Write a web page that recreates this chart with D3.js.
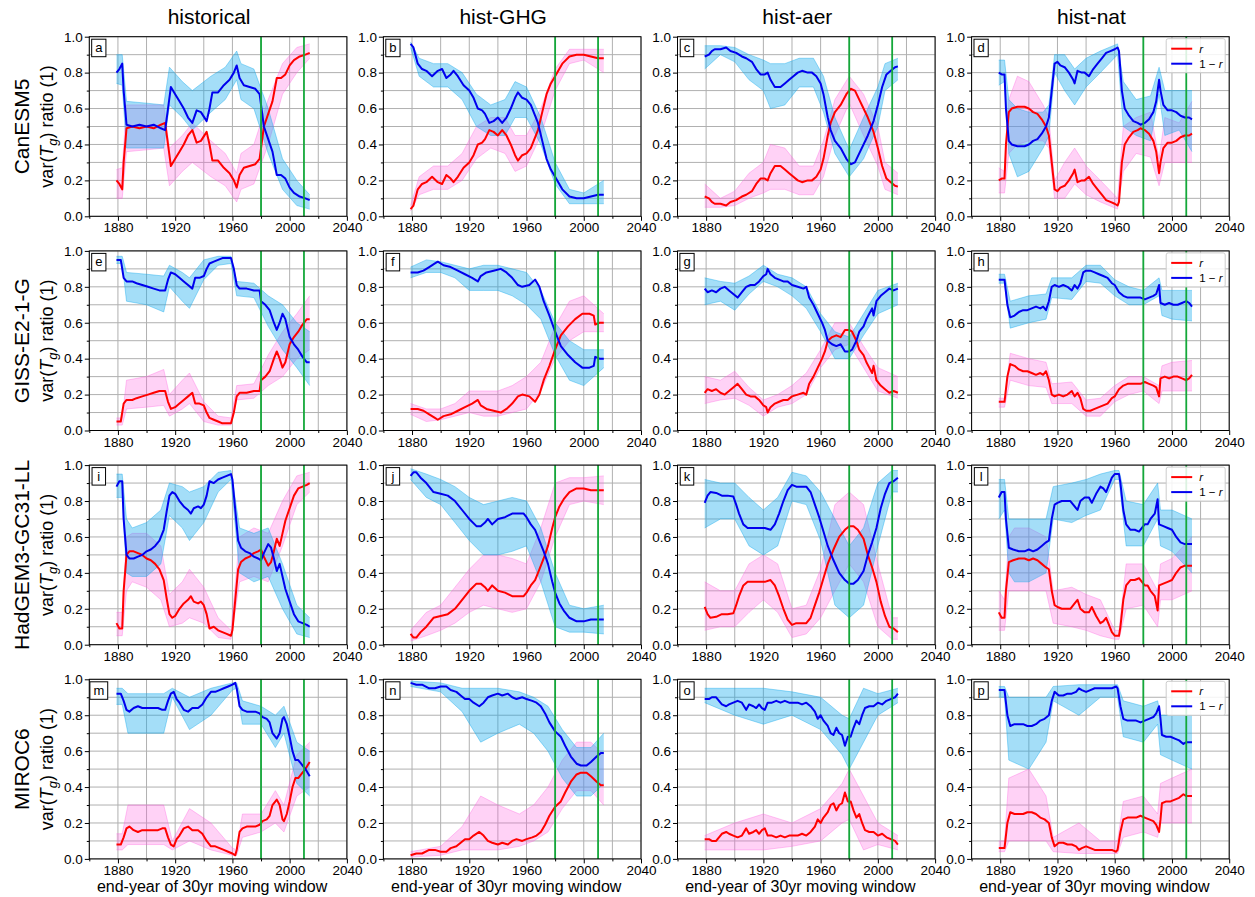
<!DOCTYPE html>
<html>
<head>
<meta charset="utf-8">
<script src="https://cdn.jsdelivr.net/npm/d3@7"></script>
<style>
  body { margin: 0; background: #fff; }
  svg text { font-family: "Liberation Sans", Arial, sans-serif; fill: #000; }
</style>
</head>
<body>
<svg id="fig" width="1255" height="897"></svg>
<script>
// ---- chart content -------------------------------------------------------
const models = ["CanESM5", "GISS-E2-1-G", "HadGEM3-GC31-LL", "MIROC6"];
const experiments = ["historical", "hist-GHG", "hist-aer", "hist-nat"];
const panelLetters = ["a","b","c","d","e","f","g","h","i","j","k","l","m","n","o","p"];
const xMajorTicks = [1880, 1920, 1960, 2000, 2040];
const xMinorTicks = [1860, 1900, 1940, 1980, 2020];
const yMajorTicks = [0, 0.2, 0.4, 0.6, 0.8, 1.0];
const yMinorTicks = [0.1, 0.3, 0.5, 0.7, 0.9];
const markerYears = [1980, 2010];
const legendLabels = ["r", "1 \u2212 r"];
const xAxisLabel = "end-year of 30yr moving window";

// ensemble-mean ratio r, [end-year, r]; the complementary curve is 1 - r
const rMeanA = [[1879,.20],[1881,.18],[1883,.15],[1884,.30],[1886,.49],[1890,.50],[1895,.49],[1900,.50],[1905,.49],[1910,.51],[1913,.52],[1915,.40],[1917,.28],[1920,.32],[1923,.36],[1926,.40],[1929,.45],[1932,.48],[1935,.41],[1938,.42],[1942,.47],[1944,.40],[1946,.31],[1950,.31],[1954,.27],[1958,.24],[1961,.20],[1963,.16],[1965,.23],[1968,.27],[1972,.28],[1976,.29],[1979,.32],[1982,.50],[1985,.57],[1988,.64],[1991,.77],[1994,.77],[1997,.79],[2000,.84],[2003,.87],[2007,.89],[2011,.90],[2014,.91]];
const rMeanB = [[1879,.04],[1881,.06],[1884,.15],[1887,.18],[1890,.19],[1894,.22],[1898,.19],[1901,.18],[1904,.23],[1907,.21],[1909,.19],[1912,.22],[1916,.27],[1920,.30],[1923,.34],[1926,.40],[1929,.41],[1931,.43],[1934,.48],[1937,.47],[1940,.45],[1943,.48],[1946,.45],[1949,.40],[1952,.34],[1954,.31],[1957,.34],[1960,.35],[1963,.38],[1966,.44],[1968,.48],[1971,.58],[1974,.68],[1977,.74],[1980,.78],[1985,.85],[1990,.89],[1995,.90],[2000,.90],[2005,.89],[2010,.88],[2014,.88]];
const rMeanC = [[1879,.11],[1882,.10],[1884,.08],[1886,.07],[1890,.07],[1894,.06],[1897,.08],[1901,.09],[1905,.11],[1908,.12],[1912,.14],[1915,.18],[1918,.21],[1921,.21],[1923,.20],[1925,.24],[1928,.28],[1932,.28],[1935,.26],[1938,.24],[1941,.22],[1944,.20],[1947,.19],[1951,.20],[1954,.20],[1957,.22],[1960,.26],[1962,.32],[1965,.45],[1967,.52],[1970,.58],[1974,.62],[1978,.68],[1981,.71],[1984,.70],[1987,.65],[1990,.60],[1993,.55],[1997,.47],[2000,.38],[2003,.28],[2006,.21],[2009,.19],[2012,.17],[2014,.165]];
const rMeanD = [[1879,.20],[1881,.21],[1883,.21],[1884,.40],[1886,.58],[1888,.60],[1892,.61],[1897,.61],[1900,.60],[1903,.58],[1906,.57],[1909,.54],[1912,.50],[1914,.45],[1916,.30],[1918,.15],[1920,.14],[1922,.16],[1925,.17],[1928,.20],[1931,.24],[1932,.26],[1934,.19],[1937,.20],[1939,.20],[1942,.22],[1945,.18],[1948,.15],[1951,.12],[1954,.09],[1957,.08],[1960,.07],[1962,.06],[1963,.08],[1965,.30],[1967,.40],[1970,.44],[1973,.47],[1976,.48],[1978,.49],[1981,.48],[1984,.46],[1987,.42],[1989,.36],[1991,.24],[1992,.30],[1994,.38],[1997,.41],[2000,.41],[2003,.42],[2006,.44],[2009,.45],[2012,.45],[2014,.46]];
const rMeanE = [[1879,.05],[1882,.05],[1884,.15],[1886,.17],[1890,.17],[1893,.18],[1897,.19],[1901,.20],[1905,.21],[1909,.22],[1913,.22],[1915,.16],[1917,.12],[1920,.13],[1923,.15],[1926,.17],[1929,.19],[1932,.21],[1934,.15],[1937,.15],[1940,.14],[1942,.10],[1944,.07],[1947,.06],[1950,.05],[1953,.04],[1956,.04],[1959,.04],[1961,.10],[1963,.19],[1965,.21],[1970,.21],[1975,.22],[1979,.22],[1980,.28],[1983,.30],[1986,.33],[1989,.40],[1991,.44],[1993,.40],[1995,.35],[1997,.38],[2000,.48],[2003,.52],[2006,.55],[2009,.59],[2012,.62],[2014,.62]];
const rMeanF = [[1879,.12],[1884,.12],[1888,.11],[1892,.09],[1896,.07],[1898,.06],[1902,.08],[1907,.09],[1912,.11],[1917,.13],[1922,.15],[1926,.17],[1928,.14],[1932,.12],[1937,.11],[1942,.10],[1946,.12],[1950,.15],[1954,.19],[1957,.20],[1962,.19],[1966,.16],[1969,.20],[1972,.28],[1976,.36],[1980,.45],[1984,.53],[1989,.58],[1994,.62],[1999,.65],[2004,.65],[2007,.64],[2008,.59],[2011,.60],[2014,.60]];
const rMeanG = [[1879,.21],[1881,.23],[1884,.22],[1887,.23],[1890,.21],[1893,.20],[1896,.22],[1899,.24],[1902,.26],[1905,.23],[1908,.20],[1911,.19],[1914,.19],[1917,.17],[1920,.14],[1922,.13],[1923,.10],[1925,.13],[1928,.15],[1931,.16],[1934,.17],[1937,.17],[1940,.19],[1944,.20],[1948,.21],[1950,.20],[1952,.26],[1955,.30],[1958,.35],[1961,.40],[1963,.44],[1965,.50],[1968,.52],[1971,.53],[1974,.52],[1977,.56],[1980,.56],[1982,.55],[1985,.50],[1987,.45],[1990,.42],[1992,.38],[1994,.35],[1996,.32],[1997,.36],[1999,.28],[2002,.25],[2005,.23],[2008,.21],[2011,.22],[2014,.21]];
const rMeanH = [[1879,.16],[1883,.16],[1885,.30],[1887,.37],[1890,.36],[1893,.34],[1896,.33],[1899,.33],[1902,.32],[1905,.31],[1908,.32],[1910,.31],[1912,.33],[1914,.28],[1916,.20],[1918,.19],[1921,.20],[1924,.19],[1927,.20],[1930,.22],[1932,.19],[1934,.21],[1936,.18],[1938,.12],[1940,.11],[1943,.11],[1946,.12],[1949,.13],[1952,.14],[1955,.15],[1958,.18],[1960,.19],[1963,.23],[1966,.25],[1969,.26],[1972,.26],[1975,.26],[1978,.26],[1981,.27],[1984,.26],[1987,.25],[1989,.24],[1991,.19],[1992,.29],[1995,.30],[1998,.29],[2001,.30],[2004,.30],[2007,.29],[2010,.28],[2012,.29],[2014,.31]];
const rMeanI = [[1879,.12],[1881,.09],[1883,.09],[1884,.30],[1886,.50],[1888,.52],[1891,.52],[1894,.51],[1897,.50],[1900,.48],[1903,.47],[1906,.45],[1909,.42],[1912,.36],[1914,.26],[1916,.17],[1918,.15],[1920,.16],[1923,.20],[1926,.23],[1929,.25],[1931,.27],[1933,.24],[1936,.23],[1938,.24],[1940,.22],[1942,.17],[1944,.09],[1947,.10],[1950,.08],[1953,.07],[1956,.06],[1959,.05],[1960,.08],[1962,.25],[1964,.42],[1966,.46],[1969,.48],[1972,.49],[1975,.51],[1978,.52],[1980,.53],[1982,.49],[1985,.44],[1987,.46],[1989,.52],[1991,.59],[1993,.55],[1995,.62],[1997,.69],[2000,.76],[2003,.83],[2006,.87],[2009,.88],[2012,.89],[2014,.90]];
const rMeanJ = [[1879,.06],[1881,.04],[1883,.04],[1886,.07],[1890,.10],[1895,.15],[1900,.16],[1905,.17],[1910,.20],[1915,.25],[1920,.30],[1925,.34],[1928,.34],[1931,.32],[1933,.30],[1936,.33],[1940,.30],[1945,.29],[1950,.27],[1955,.27],[1958,.27],[1960,.29],[1963,.33],[1966,.36],[1969,.42],[1972,.48],[1975,.55],[1978,.65],[1980,.71],[1983,.77],[1986,.81],[1990,.85],[1995,.87],[2000,.87],[2005,.86],[2010,.86],[2014,.86]];
const rMeanK = [[1879,.21],[1881,.17],[1883,.15],[1887,.155],[1891,.17],[1895,.17],[1899,.175],[1901,.22],[1903,.27],[1906,.33],[1909,.35],[1913,.35],[1917,.35],[1921,.35],[1925,.36],[1928,.33],[1931,.27],[1934,.20],[1937,.14],[1940,.11],[1943,.12],[1946,.12],[1950,.12],[1953,.15],[1956,.22],[1959,.29],[1962,.37],[1965,.45],[1969,.53],[1973,.60],[1977,.64],[1980,.66],[1983,.66],[1986,.64],[1990,.59],[1993,.50],[1996,.43],[1999,.35],[2002,.24],[2005,.16],[2008,.10],[2011,.09],[2014,.07]];
const rMeanL = [[1879,.18],[1881,.15],[1883,.15],[1884,.30],[1886,.46],[1889,.47],[1893,.48],[1897,.48],[1900,.47],[1903,.48],[1906,.47],[1909,.45],[1912,.43],[1914,.42],[1916,.30],[1918,.22],[1920,.21],[1923,.20],[1926,.20],[1929,.20],[1932,.23],[1934,.25],[1936,.20],[1939,.18],[1942,.18],[1944,.21],[1947,.16],[1950,.12],[1952,.13],[1954,.15],[1956,.11],[1958,.07],[1960,.05],[1963,.05],[1964,.10],[1966,.25],[1968,.33],[1971,.36],[1974,.36],[1977,.37],[1979,.35],[1981,.33],[1983,.33],[1985,.30],[1988,.27],[1990,.19],[1991,.33],[1994,.34],[1997,.35],[2000,.36],[2003,.40],[2006,.43],[2009,.44],[2012,.44],[2014,.44]];
const rMeanM = [[1879,.08],[1882,.08],[1884,.12],[1886,.17],[1888,.18],[1891,.16],[1894,.15],[1897,.16],[1900,.16],[1904,.16],[1908,.16],[1911,.17],[1913,.17],[1915,.12],[1917,.08],[1919,.07],[1921,.11],[1923,.13],[1926,.17],[1929,.18],[1932,.16],[1936,.16],[1939,.14],[1942,.10],[1945,.07],[1948,.07],[1951,.06],[1954,.05],[1957,.04],[1960,.03],[1962,.02],[1963,.05],[1965,.15],[1967,.17],[1970,.18],[1973,.18],[1976,.18],[1979,.19],[1981,.21],[1984,.22],[1986,.24],[1988,.30],[1991,.33],[1993,.30],[1995,.22],[1996,.21],[1998,.25],[2000,.32],[2002,.40],[2004,.45],[2006,.45],[2008,.47],[2011,.50],[2014,.54]];
const rMeanN = [[1879,.02],[1883,.03],[1887,.03],[1892,.05],[1896,.05],[1900,.04],[1904,.04],[1907,.06],[1911,.07],[1914,.09],[1917,.11],[1920,.11],[1923,.13],[1927,.15],[1930,.13],[1933,.10],[1936,.09],[1940,.08],[1943,.09],[1947,.08],[1950,.10],[1953,.11],[1957,.10],[1960,.11],[1964,.12],[1967,.13],[1970,.15],[1973,.19],[1976,.24],[1980,.29],[1984,.32],[1987,.37],[1991,.43],[1995,.47],[1998,.48],[2002,.48],[2005,.46],[2009,.43],[2012,.41],[2014,.41]];
const rMeanO = [[1879,.11],[1882,.11],[1884,.10],[1887,.10],[1889,.12],[1891,.14],[1894,.15],[1896,.14],[1899,.13],[1902,.12],[1905,.13],[1908,.17],[1910,.14],[1913,.15],[1915,.16],[1917,.14],[1919,.16],[1921,.17],[1923,.13],[1926,.13],[1929,.12],[1932,.13],[1935,.12],[1938,.13],[1941,.13],[1944,.13],[1947,.14],[1950,.13],[1953,.15],[1956,.18],[1958,.22],[1960,.20],[1962,.23],[1965,.26],[1967,.30],[1969,.31],[1971,.27],[1973,.30],[1975,.31],[1977,.37],[1979,.32],[1981,.32],[1983,.27],[1985,.23],[1987,.25],[1989,.20],[1991,.16],[1994,.15],[1997,.15],[2000,.13],[2003,.14],[2006,.12],[2009,.11],[2012,.10],[2014,.08]];
const rMeanP = [[1879,.06],[1882,.06],[1883,.06],[1885,.20],[1887,.26],[1890,.25],[1893,.25],[1896,.25],[1899,.26],[1902,.26],[1905,.25],[1908,.23],[1911,.22],[1914,.20],[1916,.12],[1918,.07],[1921,.09],[1924,.09],[1927,.08],[1930,.08],[1933,.07],[1935,.05],[1937,.06],[1940,.07],[1943,.06],[1946,.05],[1950,.05],[1954,.05],[1958,.05],[1961,.04],[1962,.05],[1964,.15],[1966,.22],[1969,.23],[1972,.23],[1975,.23],[1978,.24],[1981,.23],[1984,.22],[1987,.21],[1989,.19],[1991,.15],[1992,.22],[1993,.31],[1996,.32],[1999,.32],[2002,.33],[2005,.34],[2008,.36],[2010,.35],[2012,.35],[2014,.35]];

// spread of individual members' r, [end-year, lowest, highest]
const rSpreadA = [[1879,.10,.26],[1883,.10,.27],[1886,.36,.62],[1900,.37,.62],[1912,.38,.62],[1916,.17,.38],[1925,.25,.45],[1932,.30,.52],[1945,.22,.42],[1955,.17,.35],[1963,.08,.24],[1966,.15,.35],[1975,.18,.40],[1985,.40,.65],[1995,.68,.85],[2005,.80,.94],[2014,.88,.96]];
const rSpreadB = [[1879,.03,.06],[1885,.12,.22],[1895,.15,.28],[1905,.15,.28],[1915,.20,.35],[1925,.32,.50],[1935,.38,.55],[1945,.35,.55],[1952,.25,.45],[1960,.28,.45],[1970,.45,.60],[1980,.70,.82],[1990,.85,.93],[2000,.87,.93],[2014,.80,.93]];
const rSpreadC = [[1879,.05,.18],[1890,.05,.10],[1900,.06,.14],[1910,.10,.24],[1920,.13,.30],[1925,.15,.40],[1935,.15,.38],[1945,.12,.28],[1955,.12,.28],[1962,.22,.42],[1970,.45,.65],[1980,.63,.78],[1990,.45,.68],[2000,.28,.50],[2005,.15,.30],[2014,.12,.24]];
const rSpreadD = [[1879,.13,.27],[1883,.13,.25],[1886,.35,.65],[1892,.40,.78],[1900,.42,.75],[1910,.42,.62],[1914,.38,.55],[1918,.10,.20],[1925,.10,.30],[1932,.18,.38],[1940,.12,.28],[1950,.08,.20],[1962,.04,.10],[1966,.25,.50],[1975,.35,.55],[1985,.33,.58],[1991,.17,.32],[1995,.30,.55],[2005,.30,.52],[2014,.30,.64]];
const rSpreadE = [[1879,.03,.07],[1883,.03,.07],[1886,.12,.28],[1900,.13,.30],[1912,.14,.34],[1916,.08,.20],[1925,.12,.28],[1930,.15,.32],[1940,.05,.16],[1950,.03,.08],[1959,.03,.07],[1963,.17,.25],[1975,.18,.26],[1985,.25,.42],[1995,.30,.55],[2005,.40,.65],[2014,.45,.75]];
const rSpreadF = [[1879,.09,.15],[1890,.05,.12],[1900,.06,.12],[1910,.08,.15],[1920,.10,.22],[1930,.08,.22],[1940,.08,.22],[1950,.10,.25],[1960,.12,.30],[1970,.22,.38],[1980,.40,.58],[1990,.50,.72],[2000,.55,.75],[2014,.55,.65]];
const rSpreadG = [[1879,.15,.30],[1890,.17,.28],[1900,.18,.33],[1910,.14,.24],[1920,.08,.17],[1930,.13,.20],[1940,.15,.25],[1950,.20,.32],[1960,.35,.45],[1970,.45,.60],[1980,.48,.60],[1990,.35,.47],[2000,.22,.35],[2014,.18,.30]];
const rSpreadH = [[1879,.13,.18],[1883,.13,.18],[1887,.28,.43],[1900,.25,.40],[1912,.24,.38],[1916,.15,.26],[1930,.15,.27],[1940,.08,.17],[1950,.08,.18],[1960,.16,.25],[1970,.20,.30],[1980,.22,.30],[1991,.15,.25],[1993,.22,.36],[2000,.22,.38],[2014,.22,.39]];
const rSpreadI = [[1879,.05,.18],[1883,.05,.18],[1886,.30,.60],[1890,.35,.62],[1900,.32,.62],[1910,.25,.55],[1916,.10,.28],[1925,.12,.35],[1930,.15,.42],[1940,.12,.32],[1950,.04,.15],[1959,.03,.08],[1965,.35,.60],[1975,.38,.65],[1985,.35,.62],[1995,.55,.80],[2005,.78,.94],[2014,.85,.96]];
const rSpreadJ = [[1879,.02,.08],[1890,.05,.18],[1900,.08,.22],[1910,.12,.32],[1920,.18,.42],[1930,.22,.50],[1940,.20,.50],[1950,.18,.48],[1960,.20,.45],[1970,.35,.65],[1980,.60,.90],[1990,.78,.93],[2000,.80,.93],[2014,.78,.94]];
const rSpreadK = [[1879,.08,.35],[1890,.10,.30],[1900,.10,.30],[1910,.18,.45],[1920,.25,.50],[1930,.18,.45],[1940,.04,.20],[1950,.06,.22],[1960,.15,.42],[1970,.30,.78],[1980,.45,.85],[1990,.35,.78],[2000,.10,.45],[2010,.03,.15],[2014,.03,.15]];
const rSpreadL = [[1879,.08,.30],[1883,.08,.25],[1886,.30,.60],[1890,.30,.65],[1900,.30,.65],[1912,.30,.60],[1917,.12,.30],[1930,.10,.32],[1940,.08,.28],[1950,.05,.25],[1960,.03,.08],[1963,.03,.08],[1968,.20,.45],[1980,.22,.45],[1990,.10,.30],[1992,.25,.45],[2000,.25,.48],[2014,.30,.60]];
const rSpreadM = [[1879,.05,.14],[1883,.05,.14],[1887,.08,.30],[1900,.08,.30],[1912,.08,.30],[1918,.05,.10],[1930,.10,.28],[1945,.05,.20],[1960,.02,.06],[1963,.02,.05],[1967,.12,.25],[1980,.15,.25],[1990,.20,.38],[1996,.15,.30],[2005,.35,.58],[2014,.40,.65]];
const rSpreadN = [[1879,.01,.04],[1900,.02,.07],[1915,.05,.18],[1928,.05,.35],[1940,.05,.30],[1955,.07,.25],[1965,.10,.30],[1975,.15,.40],[1985,.28,.55],[1995,.38,.65],[2005,.38,.65],[2014,.30,.58]];
const rSpreadO = [[1879,.05,.13],[1900,.05,.20],[1920,.05,.25],[1940,.07,.20],[1960,.10,.28],[1975,.20,.42],[1980,.22,.50],[1990,.05,.35],[2000,.08,.20],[2014,.05,.13]];
const rSpreadP = [[1879,.04,.10],[1883,.04,.10],[1886,.10,.45],[1900,.10,.50],[1912,.10,.35],[1917,.04,.12],[1935,.03,.20],[1950,.03,.10],[1962,.03,.10],[1966,.12,.32],[1980,.15,.35],[1990,.12,.25],[1992,.20,.42],[2000,.20,.45],[2014,.20,.50]];

const rMeans = [rMeanA, rMeanB, rMeanC, rMeanD, rMeanE, rMeanF, rMeanG, rMeanH,
                rMeanI, rMeanJ, rMeanK, rMeanL, rMeanM, rMeanN, rMeanO, rMeanP];
const rSpreads = [rSpreadA, rSpreadB, rSpreadC, rSpreadD, rSpreadE, rSpreadF, rSpreadG, rSpreadH,
                  rSpreadI, rSpreadJ, rSpreadK, rSpreadL, rSpreadM, rSpreadN, rSpreadO, rSpreadP];

// ---- layout and styling ----------------------------------------------------
const panelLeft = 89.3, colStep = 294.1, panelW = 257.6;
const panelTop = 36.7, rowStep = 214.2, panelH = 179.6;
const colors = {
  r: "#ff0000", oneMinusR: "#0000ee",
  rMembers: "#ff5ee0", oneMinusRMembers: "#10a8ec",
  marker: "#14a83a", grid: "#b0b0b0"
};
const fontFamily = '"Liberation Sans", Arial, sans-serif';

const svg = d3.select("#fig");
svg.append("rect").attr("width", 1255).attr("height", 897).attr("fill", "#fff");

rMeans.forEach((meanSeries, i) => {
  const row = Math.floor(i / 4), col = i % 4;
  const x0 = panelLeft + col * colStep, y0 = panelTop + row * rowStep;
  const x = d3.scaleLinear().domain([1860, 2040]).range([x0, x0 + panelW]);
  const y = d3.scaleLinear().domain([0, 1]).range([y0 + panelH, y0]);
  const g = svg.append("g").attr("class", "panel");

  // grid at major and minor ticks
  g.append("g").selectAll("line").data(xMajorTicks.concat(xMinorTicks)).join("line")
    .attr("x1", d => x(d)).attr("x2", d => x(d)).attr("y1", y(0)).attr("y2", y(1))
    .attr("stroke", colors.grid).attr("stroke-width", 1);
  g.append("g").selectAll("line").data(yMajorTicks.concat(yMinorTicks)).join("line")
    .attr("x1", x(1860)).attr("x2", x(2040)).attr("y1", d => y(d)).attr("y2", d => y(d))
    .attr("stroke", colors.grid).attr("stroke-width", 1);

  // member spread of r and of 1 - r
  const spread = rSpreads[i];
  const bandR = d3.area().x(d => x(d[0])).y0(d => y(d[1])).y1(d => y(d[2]));
  const bandC = d3.area().x(d => x(d[0])).y0(d => y(1 - d[1])).y1(d => y(1 - d[2]));
  const edge = (k, flip) => d3.line().x(d => x(d[0])).y(d => y(flip ? 1 - d[k] : d[k]));

  g.append("path").datum(spread).attr("d", bandR)
    .attr("fill", colors.rMembers).attr("fill-opacity", 0.28);
  [1, 2].forEach(k => g.append("path").datum(spread).attr("d", edge(k, false))
    .attr("fill", "none").attr("stroke", colors.rMembers).attr("stroke-opacity", 0.35).attr("stroke-width", 1));
  g.append("path").datum(spread).attr("d", bandC)
    .attr("fill", colors.oneMinusRMembers).attr("fill-opacity", 0.38);
  [1, 2].forEach(k => g.append("path").datum(spread).attr("d", edge(k, true))
    .attr("fill", "none").attr("stroke", colors.oneMinusRMembers).attr("stroke-opacity", 0.4).attr("stroke-width", 1));

  // ensemble means
  g.append("path").datum(meanSeries)
    .attr("d", d3.line().x(d => x(d[0])).y(d => y(d[1])))
    .attr("fill", "none").attr("stroke", colors.r).attr("stroke-width", 2).attr("stroke-linejoin", "round");
  g.append("path").datum(meanSeries)
    .attr("d", d3.line().x(d => x(d[0])).y(d => y(1 - d[1])))
    .attr("fill", "none").attr("stroke", colors.oneMinusR).attr("stroke-width", 2).attr("stroke-linejoin", "round");

  // window-end markers
  g.append("g").selectAll("line").data(markerYears).join("line")
    .attr("x1", d => x(d)).attr("x2", d => x(d)).attr("y1", y(0)).attr("y2", y(1))
    .attr("stroke", colors.marker).attr("stroke-width", 1.8);

  // axes
  g.append("g").attr("transform", `translate(${x0},0)`)
    .call(d3.axisLeft(y).tickValues(yMajorTicks).tickFormat(d3.format(".1f")).tickSizeInner(4.5).tickSizeOuter(0).tickPadding(2));
  g.append("g").attr("transform", `translate(${x0},0)`)
    .call(d3.axisLeft(y).tickValues(yMinorTicks).tickFormat("").tickSizeInner(2.5).tickSizeOuter(0));
  g.append("g").attr("transform", `translate(0,${y0 + panelH})`)
    .call(d3.axisBottom(x).tickValues(xMajorTicks).tickFormat(d3.format("d")).tickSizeInner(4.5).tickSizeOuter(0).tickPadding(2));
  g.append("g").attr("transform", `translate(0,${y0 + panelH})`)
    .call(d3.axisBottom(x).tickValues(xMinorTicks).tickFormat("").tickSizeInner(2.5).tickSizeOuter(0));
  g.selectAll(".domain").remove();
  g.selectAll(".tick line").attr("stroke", "#000").attr("stroke-width", 1);
  g.selectAll(".tick text").attr("font-size", "13.5px").attr("font-family", fontFamily).attr("fill", "#000");

  // frame
  g.append("rect").attr("x", x0).attr("y", y0).attr("width", panelW).attr("height", panelH)
    .attr("fill", "none").attr("stroke", "#000").attr("stroke-width", 1);

  // panel letter in a box
  const letterBox = g.append("rect");
  const lt = g.append("text").attr("x", x0 + 9.5).attr("y", y0 + 15.5)
    .attr("text-anchor", "middle").attr("font-size", "13px").text(panelLetters[i]);
  const bw = Math.max(13.5, lt.node().getComputedTextLength() + 7);
  letterBox.attr("x", x0 + 9.5 - bw / 2).attr("y", y0 + 2.5).attr("width", bw).attr("height", 17.5)
    .attr("fill", "#fff").attr("stroke", "#000").attr("stroke-width", 1);

  // legend in the right-hand column
  if (col === 3) {
    const lx = x0 + panelW - 63, ly = y0 + 2;
    g.append("rect").attr("x", lx).attr("y", ly).attr("width", 59).attr("height", 34).attr("rx", 2)
      .attr("fill", "#fff").attr("fill-opacity", 0.85).attr("stroke", "#cccccc");
    const items = [[legendLabels[0], colors.r], [legendLabels[1], colors.oneMinusR]];
    items.forEach((it, k) => {
      const yy = ly + 10 + k * 15;
      g.append("line").attr("x1", lx + 5).attr("x2", lx + 26).attr("y1", yy).attr("y2", yy)
        .attr("stroke", it[1]).attr("stroke-width", 2);
      const t = g.append("text").attr("x", lx + 33).attr("y", yy + 4).attr("font-size", "11.5px");
      if (k === 0) {
        t.append("tspan").attr("font-style", "italic").text("r");
      } else {
        t.append("tspan").text("1 \u2212 ");
        t.append("tspan").attr("font-style", "italic").text("r");
      }
    });
  }

  // column titles
  if (row === 0) {
    svg.append("text").attr("x", x0 + panelW / 2 - 9).attr("y", 24)
      .attr("text-anchor", "middle").attr("font-size", "21px").text(experiments[col]);
  }
  // x-axis label on the bottom row
  if (row === 3) {
    svg.append("text").attr("x", x0 + panelW / 2 - 6).attr("y", 892)
      .attr("text-anchor", "middle").attr("font-size", "16px").text(xAxisLabel);
  }
  // model name and y-axis label on the left column
  if (col === 0) {
    const yc = y0 + panelH / 2;
    svg.append("text").attr("transform", `translate(29,${yc}) rotate(-90)`)
      .attr("text-anchor", "middle").attr("font-size", "21px").text(models[row]);
    const yl = svg.append("text").attr("transform", `translate(53,${yc}) rotate(-90)`)
      .attr("text-anchor", "middle").attr("font-size", "18px");
    yl.append("tspan").text("var(");
    yl.append("tspan").attr("font-style", "italic").text("T");
    yl.append("tspan").attr("font-style", "italic").attr("font-size", "13px").attr("dy", 4).text("g");
    yl.append("tspan").attr("dy", -4).text(") ratio (1)");
  }
});
</script>
</body>
</html>
